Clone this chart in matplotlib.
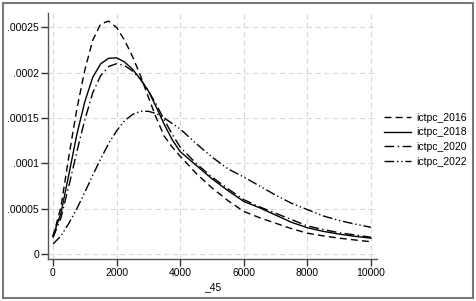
import matplotlib
matplotlib.use("Agg")
import matplotlib.pyplot as plt
from matplotlib.patches import Rectangle

plt.rcParams['font.family'] = ['Liberation Sans', 'DejaVu Sans']

x = [0, 250, 500, 750, 1000, 1250, 1500, 1750, 2000, 2250, 2500, 2750, 3000,
     3250, 3500, 3750, 4000, 4500, 5000, 5500, 6000, 6500, 7000, 7500, 8000,
     8500, 9000, 9500, 10000]

ictpc_2016 = [1.9e-5, 5.2e-5, 1.08e-4, 1.6e-4, 2.03e-4, 2.36e-4, 2.54e-4, 2.57e-4,
              2.5e-4, 2.36e-4, 2.18e-4, 1.97e-4, 1.73e-4, 1.5e-4, 1.3e-4, 1.18e-4,
              1.08e-4, 8.9e-5, 7.3e-5, 5.9e-5, 4.7e-5, 4.0e-5, 3.4e-5, 2.8e-5,
              2.3e-5, 2.0e-5, 1.75e-5, 1.55e-5, 1.35e-5]
ictpc_2018 = [2.0e-5, 4.5e-5, 8.8e-5, 1.32e-4, 1.68e-4, 1.95e-4, 2.1e-4, 2.16e-4,
              2.165e-4, 2.12e-4, 2.04e-4, 1.93e-4, 1.8e-4, 1.62e-4, 1.43e-4, 1.26e-4,
              1.13e-4, 9.8e-5, 8.3e-5, 7.0e-5, 5.8e-5, 5.1e-5, 4.3e-5, 3.5e-5,
              2.9e-5, 2.5e-5, 2.2e-5, 1.95e-5, 1.75e-5]
ictpc_2020 = [1.8e-5, 4.0e-5, 7.5e-5, 1.13e-4, 1.48e-4, 1.78e-4, 1.97e-4, 2.07e-4,
              2.1e-4, 2.08e-4, 2.02e-4, 1.93e-4, 1.8e-4, 1.65e-4, 1.48e-4, 1.32e-4,
              1.18e-4, 1.0e-4, 8.5e-5, 7.2e-5, 6.0e-5, 5.2e-5, 4.5e-5, 3.8e-5,
              3.1e-5, 2.7e-5, 2.35e-5, 2.1e-5, 1.85e-5]
ictpc_2022 = [1.1e-5, 2.0e-5, 3.4e-5, 5.0e-5, 6.8e-5, 8.7e-5, 1.05e-4, 1.22e-4,
              1.36e-4, 1.47e-4, 1.54e-4, 1.575e-4, 1.575e-4, 1.55e-4, 1.5e-4, 1.44e-4,
              1.38e-4, 1.22e-4, 1.07e-4, 9.4e-5, 8.5e-5, 7.5e-5, 6.5e-5, 5.6e-5,
              4.9e-5, 4.2e-5, 3.7e-5, 3.3e-5, 2.95e-5]

xticks = [0, 2000, 4000, 6000, 8000, 10000]
yticks = [0, 0.00005, 0.0001, 0.00015, 0.0002, 0.00025]
ytick_labels = ["0", ".00005", ".0001", ".00015", ".0002", ".00025"]
xlabel = "_45"

fig = plt.figure(figsize=(4.77, 3.01), dpi=100)
fig.patch.set_facecolor('white')
ax = fig.add_axes([48/477, 1-259/301, (377-48)/477, (259-13)/301])

lw = 1.0
ax.plot(x, ictpc_2016, color='black', lw=lw, linestyle=(0, (5, 3)), label='ictpc_2016')
ax.plot(x, ictpc_2018, color='black', lw=lw, linestyle='-', label='ictpc_2018')
ax.plot(x, ictpc_2020, color='black', lw=lw, linestyle=(0, (7, 2.5, 1, 2.5)), label='ictpc_2020')
ax.plot(x, ictpc_2022, color='black', lw=lw, linestyle=(0, (7, 2, 1, 2, 1, 2)), label='ictpc_2022')

ax.set_xlim(-157, 10189)
ax.set_ylim(-5.5e-6, 2.66e-4)
ax.set_xticks(xticks)
ax.set_xticklabels([str(t) for t in xticks])
ax.set_yticks(yticks)
ax.set_yticklabels(ytick_labels)
ax.tick_params(axis='both', direction='out', length=5, width=1, colors='#333333',
               labelsize=7.5, labelcolor='black', pad=1.5)
ax.grid(True, color='#d8d8d8', linestyle=(0, (5, 3)), linewidth=0.8)
ax.set_axisbelow(True)
for s in ['top', 'right']:
    ax.spines[s].set_visible(False)
for s in ['left', 'bottom']:
    ax.spines[s].set_color('#555555')
    ax.spines[s].set_linewidth(1.0)
ax.set_xlabel(xlabel, fontsize=7.5, labelpad=3)

leg = ax.legend(loc='center left', bbox_to_anchor=(1.0, 0.485), frameon=False,
                fontsize=7.5, handlelength=2.6, handletextpad=0.5, labelspacing=0.45,
                borderaxespad=0.3)

fig.patches.append(Rectangle((3/477, 3/301), 470/477, 295/301, transform=fig.transFigure,
                             fill=False, edgecolor='#777777', linewidth=1.5))

fig.savefig('out.png', dpi=100)
